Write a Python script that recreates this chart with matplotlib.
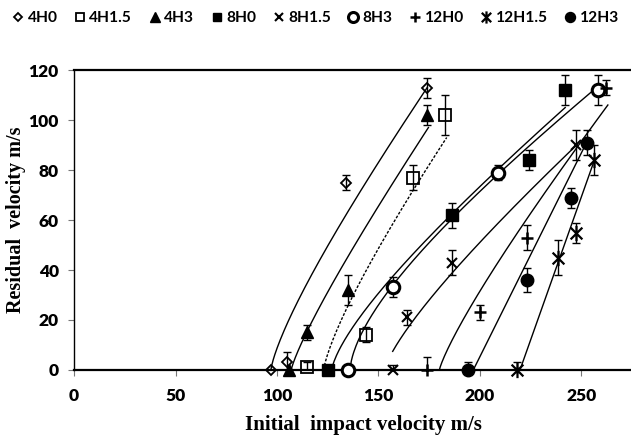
import numpy as np
import matplotlib
matplotlib.use("Agg")
import matplotlib.pyplot as plt
from matplotlib.path import Path
from matplotlib.lines import Line2D

# impact test results: initial velocity, residual velocity, error
v_4H0 = [97, 105, 134, 174]
r_4H0 = [0, 3, 75, 113]
e_4H0 = [0, 4, 3, 4]

v_4H15 = [115, 144, 167, 183]
r_4H15 = [1, 14, 77, 102]
e_4H15 = [2, 3, 5, 8]

v_4H3 = [106, 115, 135, 174]
r_4H3 = [0, 15, 32, 102]
e_4H3 = [0, 3, 6, 4]

v_8H0 = [125, 186, 224, 242]
r_8H0 = [0, 62, 84, 112]
e_8H0 = [0, 5, 4, 6]

v_8H15 = [157, 164, 186, 247.5]
r_8H15 = [0, 21, 43, 90]
e_8H15 = [2, 3, 5, 6]

v_8H3 = [135, 157, 209, 258]
r_8H3 = [0, 33, 79, 112]
e_8H3 = [0, 4, 3, 6]

v_12H0 = [174, 200, 223, 262]
r_12H0 = [0, 23, 53, 113]
e_12H0 = [5, 3, 5, 3]

v_12H15 = [218, 238.5, 247.5, 256]
r_12H15 = [0, 45, 55, 84]
e_12H15 = [3, 7, 4, 6]

v_12H3 = [194, 223, 245, 252.5]
r_12H3 = [0, 36, 69, 91]
e_12H3 = [3, 5, 4, 5]

# Lambert-Jonas fit lines: v_bl, v_end, vr_end, p, v_start
fit_4H0 = (97, 174, 113, 1.3, 97)
fit_4H15 = (123, 183.6, 93, 1.3, 123)
fit_4H3 = (107, 174.6, 97, 1.2, 107)
fit_8H0 = (127, 242, 105, 1.4, 127)
fit_8H15 = (153, 247.6, 90, 1.3, 157)
fit_8H3 = (136, 256, 112, 1.6, 136)
fit_12H0 = (180, 263, 106, 1.2, 180)
fit_12H15 = (219.7, 256.7, 84.7, 1.0, 219.7)
fit_12H3 = (196.7, 252.5, 91, 1.0, 196.7)


def lj_curve(v_bl, v_end, vr_end, p, v_start):
    a = vr_end / (v_end**p - v_bl**p) ** (1.0 / p)
    v = np.linspace(v_start, v_end, 200)
    return v, a * (v**p - v_bl**p) ** (1.0 / p)


# excel style star marker: X with a vertical stroke
star = Path([(-1, -1), (1, 1), (-1, 1), (1, -1), (0, -1.3), (0, 1.3)],
            [Path.MOVETO, Path.LINETO, Path.MOVETO, Path.LINETO, Path.MOVETO, Path.LINETO])

series = [
    ("4H0", v_4H0, r_4H0, e_4H0, fit_4H0, dict(marker="D", ms=5.5, mfc="none", mew=1.3), "-"),
    ("4H1.5", v_4H15, r_4H15, e_4H15, fit_4H15, dict(marker="s", ms=8, mfc="none", mew=1.3), (0, (2, 1.2))),
    ("4H3", v_4H3, r_4H3, e_4H3, fit_4H3, dict(marker="^", ms=9, mfc="k", mew=1), "-"),
    ("8H0", v_8H0, r_8H0, e_8H0, fit_8H0, dict(marker="s", ms=8, mfc="k", mew=1), "-"),
    ("8H1.5", v_8H15, r_8H15, e_8H15, fit_8H15, dict(marker="x", ms=7, mew=1.5), "-"),
    ("8H3", v_8H3, r_8H3, e_8H3, fit_8H3, dict(marker="o", ms=9, mfc="white", mew=2.2), "-"),
    ("12H0", v_12H0, r_12H0, e_12H0, fit_12H0, dict(marker="+", ms=9, mew=1.8), "-"),
    ("12H1.5", v_12H15, r_12H15, e_12H15, fit_12H15, dict(marker=star, ms=11, mew=1.6), "-"),
    ("12H3", v_12H3, r_12H3, e_12H3, fit_12H3, dict(marker="o", ms=9, mfc="k", mew=1), "-"),
]

fig = plt.figure(figsize=(6.31, 4.36), dpi=100)
ax = fig.add_axes([0.1173, 0.1514, 0.8827, 0.688])

handles = []
for name, v, r, e, fit, mk, ls in series:
    fv, fr = lj_curve(*fit)
    ax.plot(fv, fr, color="k", lw=1, ls=ls, zorder=2)
    ax.errorbar(v, r, yerr=e, fmt="none", ecolor="k", elinewidth=1, capsize=3,
                capthick=1, zorder=3)
    ax.plot(v, r, ls="none", color="k", mec="k", zorder=4, clip_on=False, **mk)
    leg_mk = dict(mk)
    leg_mk["ms"] = mk["ms"] * 0.8
    handles.append(Line2D([], [], ls="none", color="k", mec="k", label=name, **leg_mk))

ax.set_xlim(0, 274.4)
ax.set_ylim(0, 120)
ax.set_xticks([0, 50, 100, 150, 200, 250])
ax.set_yticks([0, 20, 40, 60, 80, 100, 120])

ax.spines["right"].set_visible(False)
ax.spines["top"].set_linewidth(1.6)
ax.spines["bottom"].set_linewidth(1.6)
ax.spines["left"].set_linewidth(1.0)
ax.tick_params(direction="out", length=4, width=0.8, color="#777777")
ax.tick_params(axis="x", pad=9)
ax.tick_params(axis="y", pad=7)
for lab in ax.get_xticklabels() + ax.get_yticklabels():
    lab.set_fontfamily("Lato")
    lab.set_fontweight("heavy")
    lab.set_fontsize(12.5)

ax.set_xlabel("Initial  impact velocity m/s", family="Liberation Serif",
              fontweight="bold", fontsize=15)
ax.set_ylabel("Residual  velocity m/s", family="Liberation Serif",
              fontweight="bold", fontsize=14.5)
ax.xaxis.set_label_coords(0.519, -0.15)
ax.yaxis.set_label_coords(-0.086, 0.5)

fig.legend(handles=handles, loc="center", bbox_to_anchor=(0.5, 0.958), ncol=9,
           frameon=False, handlelength=0.8, handletextpad=0.2, columnspacing=1.05,
           prop={"family": "Lato", "weight": "bold", "size": 11.2})

fig.savefig("out.png", dpi=100)
